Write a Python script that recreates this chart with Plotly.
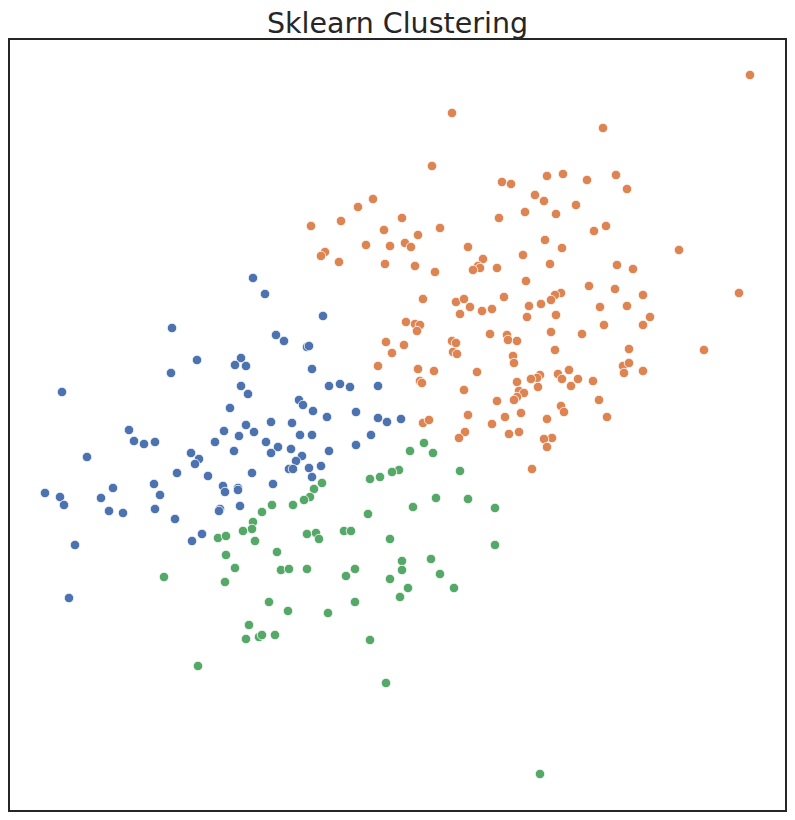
import plotly.graph_objects as go

# puntos (unidades arbitrarias, eje x 0-775, eje y 0-770)
azul_x = [162, 187, 161, 52, 119, 124, 134, 145, 77, 181, 189, 185, 167, 35, 50, 54,
          103, 91, 99, 113, 144, 150, 145, 165, 182, 65, 59, 192, 243, 255, 313, 266,
          274, 297, 299, 231, 225, 236, 302, 231, 238, 319, 330, 340, 368, 289, 293, 220,
          303, 346, 317, 368, 377, 391, 261, 282, 236, 214, 229, 244, 290, 302, 361, 205,
          256, 268, 261, 224, 281, 319, 346, 292, 286, 279, 283, 299, 311, 242, 302, 198,
          213, 215, 228, 228, 263, 210, 209, 230]
azul_y = [482, 450, 437, 418, 380, 369, 366, 368, 353, 357, 351, 346, 337, 317, 313, 305,
          322, 312, 299, 297, 326, 315, 301, 291, 269, 265, 212, 276, 532, 516, 494, 475,
          469, 463, 464, 452, 445, 444, 441, 424, 416, 424, 426, 423, 424, 410, 405, 402,
          399, 398, 393, 392, 388, 391, 388, 387, 385, 379, 374, 378, 375, 375, 375, 368,
          368, 363, 357, 359, 361, 359, 365, 354, 349, 341, 341, 342, 344, 337, 333, 334,
          324, 318, 322, 320, 326, 301, 299, 304]

naranja_x = [442, 422, 492, 501, 363, 348, 331, 301, 392, 489, 515, 374, 430, 408, 395, 401,
             380, 356, 315, 311, 329, 375, 405, 458, 425, 473, 468, 470, 463, 487, 513, 516,
             413, 446, 454, 460, 472, 482, 494, 519, 740, 593, 537, 553, 577, 606, 617, 525,
             534, 546, 566, 596, 584, 535, 552, 669, 540, 607, 623, 579, 605, 633, 729, 551,
             545, 541, 531, 590, 617, 396, 405, 410, 407, 376, 394, 382, 368, 408, 410, 412,
             450, 517, 546, 640, 633, 594, 572, 541, 545, 480, 497, 498, 507, 442, 446, 443,
             447, 503, 504, 424, 467, 619, 613, 619, 614, 633, 559, 548, 552, 568, 561, 583,
             530, 527, 521, 528, 507, 454, 509, 514, 507, 504, 487, 589, 551, 554, 597, 537,
             511, 495, 458, 482, 509, 499, 455, 449, 413, 419, 542, 534, 537, 522, 694]
naranja_y = [697, 644, 628, 626, 611, 603, 589, 584, 592, 592, 598, 580, 582, 575, 567, 563,
             564, 565, 558, 554, 548, 546, 544, 563, 538, 551, 544, 542, 540, 542, 555, 529,
             511, 508, 511, 503, 499, 501, 513, 504, 735, 682, 634, 636, 630, 635, 621, 615,
             609, 596, 605, 584, 579, 570, 562, 560, 546, 545, 541, 524, 521, 515, 517, 517,
             515, 510, 506, 503, 504, 488, 486, 485, 479, 468, 465, 457, 444, 441, 429, 427,
             496, 493, 495, 493, 485, 485, 476, 478, 460, 476, 475, 470, 469, 469, 467, 458,
             456, 454, 447, 439, 438, 461, 444, 447, 437, 439, 440, 436, 431, 431, 424, 429,
             435, 432, 431, 423, 428, 420, 419, 417, 413, 410, 409, 410, 404, 398, 393, 391,
             397, 393, 395, 386, 378, 376, 378, 372, 387, 390, 372, 371, 363, 341, 460]

verde_x = [154, 208, 400, 389, 382, 370, 360, 312, 304, 300, 294, 283, 262, 252, 243, 242,
           233, 216, 245, 216, 267, 297, 306, 309, 334, 341, 358, 380, 403, 392, 414, 423,
           450, 225, 215, 271, 279, 297, 336, 345, 392, 380, 398, 390, 259, 278, 318, 345,
           239, 236, 249, 252, 265, 360, 188, 376, 426, 458, 485, 485, 421, 430, 444, 530]
verde_y = [233, 272, 359, 340, 338, 333, 331, 327, 321, 313, 310, 305, 305, 298, 288, 281,
           279, 274, 269, 255, 258, 276, 277, 271, 279, 279, 296, 271, 303, 249, 367, 357,
           339, 242, 228, 240, 241, 241, 234, 241, 240, 231, 222, 213, 208, 199, 197, 208,
           185, 171, 173, 175, 175, 170, 144, 127, 312, 311, 302, 265, 251, 236, 222, 36]

grupos = [
    ("0", azul_x, azul_y, "#4C72B0"),
    ("1", naranja_x, naranja_y, "#DD8452"),
    ("2", verde_x, verde_y, "#55A868"),
]

fig = go.Figure()
for nombre, xs, ys, color in grupos:
    fig.add_trace(go.Scatter(
        x=xs, y=ys, mode="markers", name=nombre,
        marker=dict(color=color, size=9.5, line=dict(color="white", width=0.8))
    ))

eje = dict(showticklabels=False, ticks="", showgrid=False, zeroline=False,
           showline=True, mirror=True, linecolor="#262626", linewidth=1.5)

# la página deja 8px de margen alrededor del gráfico
fig.update_layout(
    width=787, height=812,
    margin=dict(l=2, r=10, t=32, b=10),
    title=dict(text="Sklearn Clustering", x=0.5, xref="paper", xanchor="center",
               y=1 - 15 / 812, yanchor="middle", yref="container",
               font=dict(family="DejaVu Sans", size=28.5, color="#262626")),
    showlegend=False,
    plot_bgcolor="white",
    paper_bgcolor="white",
    xaxis=dict(range=[0, 775], **eje),
    yaxis=dict(range=[0, 770], **eje),
)

fig.write_html("out.html")
